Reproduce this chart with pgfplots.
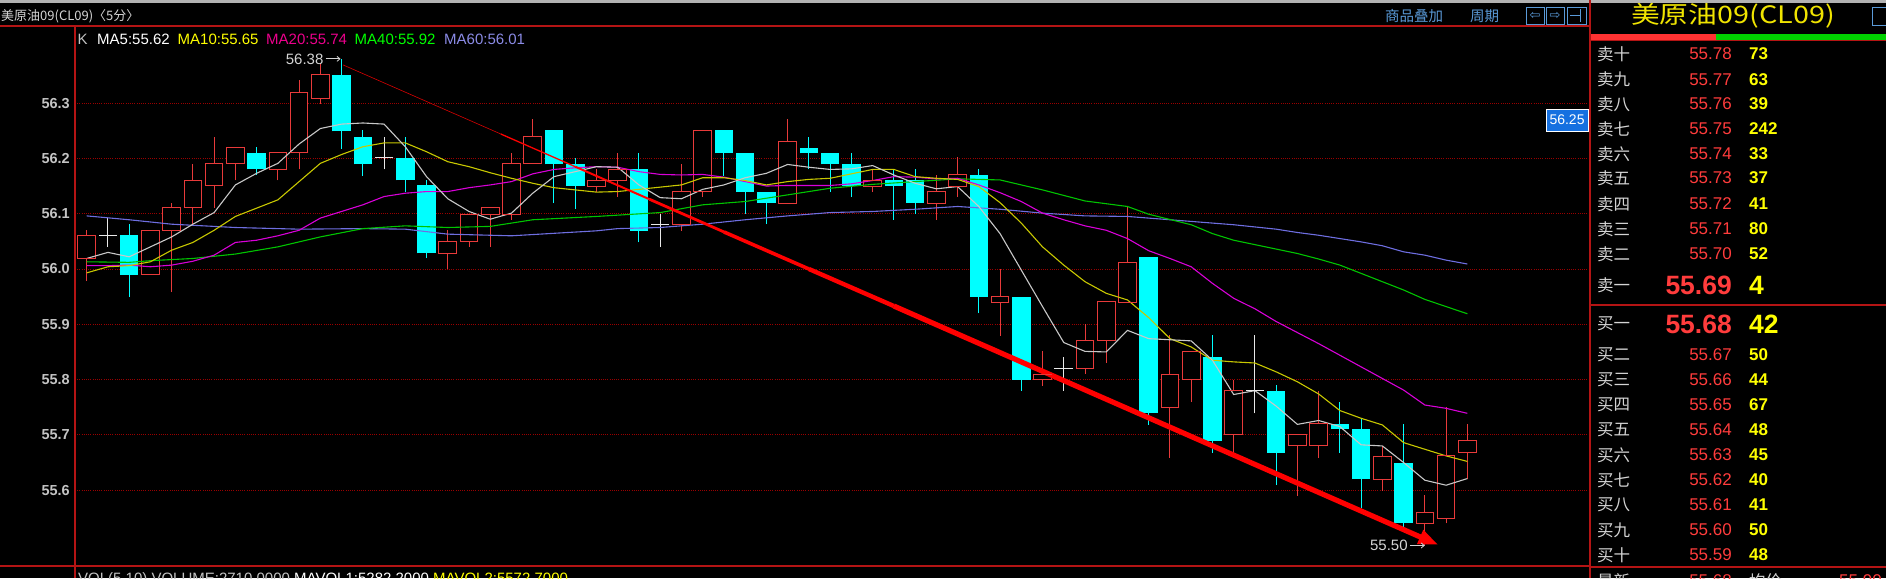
\documentclass[border=0pt]{standalone}
\usepackage{fontspec}
\setmainfont{Liberation Sans}
\newfontfamily\cjk{Noto Sans CJK SC}
\newfontfamily\dejavu{DejaVu Sans}
\usepackage{pgfplots}
\pgfplotsset{compat=1.18}
\usetikzlibrary{arrows.meta}

\definecolor{candred}{HTML}{E83A3A}
\definecolor{candcyan}{HTML}{00FFFF}
\definecolor{crossw}{HTML}{E8E8E8}
\definecolor{maw}{HTML}{C8C8C8}
\definecolor{may}{HTML}{C8C800}
\definecolor{mam}{HTML}{D800D8}
\definecolor{mag}{HTML}{00C400}
\definecolor{mab}{HTML}{6E6EE0}
\definecolor{gridred}{HTML}{9A0000}
\definecolor{framered}{HTML}{B41414}
\definecolor{tickgrey}{HTML}{C4C4C4}
\definecolor{lblgrey}{HTML}{D4D4D4}
\definecolor{obred}{HTML}{FF3C3C}
\definecolor{obyel}{HTML}{FFFF00}
\definecolor{titleyel}{HTML}{F0E400}
\definecolor{uiblue}{HTML}{5A9AD8}
\definecolor{boxblue}{HTML}{1570E0}
\definecolor{barred}{HTML}{FF3232}
\definecolor{bargreen}{HTML}{00D200}

\newcommand\fs[1]{\fontsize{#1}{#1}\selectfont}
\newcommand\ticklab{\bfseries\fontsize{14.5}{16}\selectfont}

% rising candle (hollow red): i, O, H, L, C
\newcommand\cu[5]{%
 \addplot[candred, line width=1pt] coordinates {(#1,#4)(#1,#3)};
 \addplot[candred, line width=18.6pt] coordinates {(#1,#2)(#1,#5)};
 \addplot[black, line width=16.6pt] coordinates {(#1,#2)(#1,#5)};
 \addplot[candred, only marks, mark=-, mark size=9.3pt, mark options={line width=1pt}] coordinates {(#1,#2)(#1,#5)};}
% falling candle (filled cyan): i, O, H, L, C
\newcommand\cd[5]{%
 \addplot[candcyan, line width=1pt] coordinates {(#1,#4)(#1,#3)};
 \addplot[candcyan, line width=18.6pt] coordinates {(#1,#5)(#1,#2)};}
% doji (white cross): i, O, H, L
\newcommand\cx[4]{%
 \addplot[crossw, line width=1pt] coordinates {(#1,#4)(#1,#3)};
 \addplot[crossw, only marks, mark=-, mark size=9.3pt, mark options={line width=1pt}] coordinates {(#1,#2)};}

\newcommand\obrow[4]{%
  \node[anchor=west, inner sep=0pt, text=lblgrey, font=\cjk\fs{16.5}] at (1597,#1) {#2};
  \node[anchor=east, inner sep=0pt, text=obred, font=\fs{17}] at (1732,#1) {#3};
  \node[anchor=west, inner sep=0pt, text=obyel, font=\bfseries\fs{17}] at (1749,#1) {#4};}

\begin{document}
\begin{tikzpicture}
\useasboundingbox (0,0) rectangle (1886pt,578pt);
\fill[black] (0,0) rectangle (1886pt,578pt);
\begin{axis}[
  at={(75pt,12pt)}, anchor=south west,
  scale only axis, width=1514pt, height=540pt,
  xmin=-0.551, xmax=70.73, ymin=55.4629, ymax=56.4394,
  axis line style={draw=none},
  xtick=\empty,
  ytick={55.6,55.7,55.8,55.9,56.0,56.1,56.2,56.3},
  ymajorgrids,
  grid style={draw=gridred, line width=0.9pt, dash pattern=on 1pt off 1.2pt},
  major tick length=0pt,
  yticklabel style={font=\ticklab, text=tickgrey, anchor=east, inner sep=0pt, xshift=-5pt},
  /pgf/number format/fixed, /pgf/number format/fixed zerofill,
  /pgf/number format/precision=1, /pgf/number format/assume math mode=true,
]
% ---- candles (i, open, high, low, close)
\cu{0}{56.019}{56.070}{55.979}{56.061}
\cx{1}{56.061}{56.092}{56.040}
\cd{2}{56.061}{56.081}{55.949}{55.990}
\cu{3}{55.990}{56.070}{55.990}{56.070}
\cu{4}{56.070}{56.120}{55.958}{56.111}
\cu{5}{56.111}{56.190}{56.081}{56.160}
\cu{6}{56.151}{56.239}{56.111}{56.190}
\cu{7}{56.190}{56.219}{56.160}{56.219}
\cd{8}{56.210}{56.220}{56.170}{56.180}
\cu{9}{56.180}{56.210}{56.160}{56.210}
\cu{10}{56.210}{56.342}{56.180}{56.320}
\cu{11}{56.308}{56.372}{56.299}{56.351}
\cd{12}{56.351}{56.380}{56.217}{56.249}
\cd{13}{56.239}{56.251}{56.168}{56.189}
\cx{14}{56.201}{56.239}{56.180}
\cd{15}{56.201}{56.239}{56.139}{56.160}
\cd{16}{56.151}{56.160}{56.019}{56.028}
\cu{17}{56.028}{56.070}{56.000}{56.049}
\cu{18}{56.049}{56.099}{56.040}{56.099}
\cu{19}{56.099}{56.111}{56.040}{56.111}
\cu{20}{56.099}{56.210}{56.089}{56.190}
\cu{21}{56.190}{56.271}{56.190}{56.239}
\cd{22}{56.251}{56.251}{56.119}{56.189}
\cd{23}{56.190}{56.201}{56.109}{56.150}
\cu{24}{56.150}{56.180}{56.139}{56.160}
\cu{25}{56.160}{56.210}{56.130}{56.180}
\cd{26}{56.180}{56.210}{56.048}{56.069}
\cx{27}{56.081}{56.099}{56.040}
\cu{28}{56.081}{56.190}{56.069}{56.140}
\cu{29}{56.140}{56.251}{56.130}{56.251}
\cd{30}{56.251}{56.251}{56.168}{56.209}
\cd{31}{56.210}{56.210}{56.099}{56.139}
\cd{32}{56.140}{56.140}{56.081}{56.119}
\cu{33}{56.119}{56.271}{56.119}{56.230}
\cd{34}{56.219}{56.239}{56.180}{56.209}
\cd{35}{56.210}{56.210}{56.139}{56.189}
\cd{36}{56.190}{56.210}{56.130}{56.150}
\cu{37}{56.150}{56.180}{56.139}{56.160}
\cd{38}{56.160}{56.180}{56.089}{56.150}
\cd{39}{56.160}{56.180}{56.099}{56.119}
\cu{40}{56.119}{56.170}{56.089}{56.140}
\cu{41}{56.150}{56.202}{56.130}{56.170}
\cd{42}{56.170}{56.181}{55.920}{55.950}
\cu{43}{55.940}{56.000}{55.879}{55.950}
\cd{44}{55.950}{55.950}{55.780}{55.800}
\cu{45}{55.800}{55.851}{55.789}{55.810}
\cx{46}{55.820}{55.840}{55.780}
\cu{47}{55.820}{55.901}{55.810}{55.871}
\cu{48}{55.871}{55.941}{55.830}{55.941}
\cu{49}{55.940}{56.113}{55.940}{56.011}
\cd{50}{56.022}{56.022}{55.718}{55.739}
\cu{51}{55.750}{55.880}{55.659}{55.810}
\cu{52}{55.800}{55.850}{55.760}{55.850}
\cd{53}{55.840}{55.880}{55.668}{55.689}
\cu{54}{55.700}{55.800}{55.668}{55.780}
\cx{55}{55.780}{55.880}{55.739}
\cd{56}{55.780}{55.790}{55.609}{55.668}
\cu{57}{55.680}{55.700}{55.590}{55.700}
\cu{58}{55.680}{55.780}{55.659}{55.720}
\cd{59}{55.720}{55.760}{55.668}{55.710}
\cd{60}{55.710}{55.729}{55.567}{55.620}
\cu{61}{55.620}{55.679}{55.599}{55.661}
\cd{62}{55.650}{55.720}{55.531}{55.540}
\cu{63}{55.540}{55.591}{55.500}{55.559}
\cu{64}{55.549}{55.751}{55.540}{55.662}
\cu{65}{55.668}{55.720}{55.620}{55.689}
% ---- moving averages
\addplot[mab, line width=1.1pt] coordinates {(0,56.096)(2,56.089)(4,56.081)(7,56.075)(10,56.072)(13,56.073)(15,56.072)(17,56.063)(19,56.061)(20,56.060)(24,56.069)(25,56.073)(27,56.075)(29,56.081)(31,56.089)(33,56.096)(35,56.102)(37,56.104)(39,56.108)(41,56.113)(43,56.108)(45,56.101)(47,56.096)(49,56.095)(50,56.092)(51,56.089)(52,56.086)(53,56.083)(54,56.080)(55,56.076)(56,56.072)(57,56.066)(58,56.061)(59,56.055)(60,56.049)(61,56.042)(62,56.031)(63,56.025)(64,56.016)(65,56.009)};
\addplot[mag, line width=1.1pt] coordinates {(0,56.013)(2,56.012)(3,56.015)(5,56.019)(7,56.027)(9,56.040)(11,56.058)(13,56.073)(15,56.078)(17,56.075)(19,56.077)(21,56.089)(24,56.095)(27,56.102)(29,56.116)(31,56.122)(33,56.134)(35,56.146)(37,56.153)(39,56.158)(41,56.163)(43,56.161)(45,56.143)(47,56.123)(49,56.113)(50,56.099)(52,56.080)(53,56.064)(54,56.052)(55,56.044)(56,56.036)(57,56.028)(58,56.018)(59,56.007)(60,55.992)(61,55.977)(62,55.962)(63,55.945)(64,55.932)(65,55.919)};
\addplot[mam, line width=1.1pt] coordinates {(0,56.006)(1,56.006)(2,56.007)(3,56.004)(4,56.007)(5,56.014)(6,56.025)(7,56.048)(8,56.052)(9,56.060)(10,56.070)(11,56.092)(12,56.104)(13,56.116)(14,56.131)(15,56.137)(16,56.140)(17,56.140)(18,56.147)(19,56.152)(20,56.158)(21,56.172)(22,56.180)(23,56.183)(24,56.185)(25,56.184)(26,56.176)(27,56.171)(28,56.170)(29,56.171)(30,56.166)(31,56.158)(32,56.150)(33,56.151)(34,56.151)(35,56.151)(36,56.154)(37,56.160)(38,56.167)(39,56.166)(40,56.163)(41,56.164)(42,56.152)(43,56.138)(44,56.122)(45,56.101)(46,56.089)(47,56.078)(48,56.070)(49,56.055)(50,56.033)(51,56.019)(52,56.004)(53,55.974)(54,55.947)(55,55.928)(56,55.905)(57,55.885)(58,55.865)(59,55.844)(60,55.823)(61,55.802)(62,55.781)(63,55.754)(64,55.748)(65,55.739)};
\addplot[may, line width=1.1pt] coordinates {(0,55.993)(1,56.004)(2,56.006)(3,56.013)(4,56.034)(5,56.048)(6,56.070)(7,56.095)(8,56.110)(9,56.125)(10,56.158)(11,56.191)(12,56.207)(13,56.221)(14,56.228)(15,56.228)(16,56.212)(17,56.194)(18,56.185)(19,56.174)(20,56.164)(21,56.155)(22,56.147)(23,56.143)(24,56.139)(25,56.140)(26,56.144)(27,56.148)(28,56.152)(29,56.165)(30,56.165)(31,56.160)(32,56.152)(33,56.158)(34,56.162)(35,56.164)(36,56.172)(37,56.180)(38,56.180)(39,56.167)(40,56.164)(41,56.162)(42,56.149)(43,56.120)(44,56.083)(45,56.040)(46,56.007)(47,55.977)(48,55.956)(49,55.944)(50,55.912)(51,55.874)(52,55.859)(53,55.835)(54,55.832)(55,55.830)(56,55.814)(57,55.796)(58,55.774)(59,55.744)(60,55.730)(61,55.718)(62,55.686)(63,55.674)(64,55.662)(65,55.652)};
\addplot[maw, line width=1.1pt] coordinates {(0,56.019)(1,56.030)(2,56.022)(3,56.040)(4,56.058)(5,56.081)(6,56.102)(7,56.152)(8,56.173)(9,56.191)(10,56.226)(11,56.254)(12,56.262)(13,56.264)(14,56.262)(15,56.221)(16,56.167)(17,56.127)(18,56.104)(19,56.090)(20,56.101)(21,56.137)(22,56.167)(23,56.176)(24,56.185)(25,56.184)(26,56.152)(27,56.129)(28,56.127)(29,56.144)(30,56.152)(31,56.165)(32,56.173)(33,56.189)(34,56.184)(35,56.180)(36,56.181)(37,56.187)(38,56.170)(39,56.155)(40,56.145)(41,56.149)(42,56.113)(43,56.064)(44,55.998)(45,55.932)(46,55.867)(47,55.851)(48,55.850)(49,55.889)(50,55.874)(51,55.872)(52,55.870)(53,55.835)(54,55.773)(55,55.780)(56,55.752)(57,55.719)(58,55.726)(59,55.715)(60,55.682)(61,55.680)(62,55.650)(63,55.618)(64,55.609)(65,55.621)};
% ---- hand-drawn trend line (tapering)
\addplot[red!85!black, line width=0.6pt] coordinates {(12.07,56.369)(19.5,56.244)};
\addplot[red, line width=1.3pt] coordinates {(19.5,56.244)(23,56.185)};
\addplot[red, line width=2pt] coordinates {(23,56.185)(26.5,56.126)};
\addplot[red, line width=2.8pt] coordinates {(26.5,56.126)(30,56.067)};
\addplot[red, line width=3.6pt] coordinates {(30,56.067)(34,56.000)};
\addplot[red, line width=4.4pt] coordinates {(34,56.000)(38,55.933)};
\addplot[red, line width=5.2pt, -{Triangle[length=20pt,width=14pt]}] coordinates {(38,55.933)(63.64,55.501)};
% ---- high / low markers
\draw[lblgrey, line width=0.8pt, -{Straight Barb[length=3pt,width=5pt]}] ([xshift=-16pt]axis cs:12,56.38) -- ([xshift=-1pt]axis cs:12,56.38);
\node[anchor=east, inner sep=0pt, text=lblgrey, font=\fs{15}] at ([xshift=-18pt]axis cs:12,56.38) {56.38};
\draw[lblgrey, line width=0.8pt, -{Straight Barb[length=3pt,width=5pt]}] ([xshift=-15pt]axis cs:63,55.50) -- ([xshift=-0pt]axis cs:63,55.50);
\node[anchor=east, inner sep=0pt, text=lblgrey, font=\fs{15}] at ([xshift=-17pt]axis cs:63,55.50) {55.50};
\end{axis}

\begin{scope}[x=1pt,y=1pt]
% window chrome
\fill[gray!60] (0,575) rectangle (1886,578);
% frame lines
\draw[framered, line width=1.2pt] (0,552) -- (1590,552);
\draw[framered, line width=1.2pt] (0,12) -- (1590,12);
\draw[framered, line width=1.2pt] (75,552) -- (75,0);
\draw[framered, line width=1.2pt] (1590,578) -- (1590,0);
% title line
\node[anchor=west, inner sep=0pt, text=lblgrey, font=\cjk\fs{13}] at (1,562) {美原油09(CL09)〈5分〉};
% MA header
\node[anchor=base west, inner sep=0pt, text=tickgrey, font=\fs{15}] at (77.5,533) {K};
\node[anchor=base west, inner sep=0pt, text=white, font=\fs{15}] at (97,533) {MA5:55.62};
\node[anchor=base west, inner sep=0pt, text=obyel, font=\fs{15}] at (177.5,533) {MA10:55.65};
\node[anchor=base west, inner sep=0pt, text=magenta, font=\fs{15}] at (266,533) {MA20:55.74};
\node[anchor=base west, inner sep=0pt, text=green, font=\fs{15}] at (354.5,533) {MA40:55.92};
\node[anchor=base west, inner sep=0pt, text=mab!80!white, font=\fs{15}] at (444,533) {MA60:56.01};
% top-right controls
\node[anchor=west, inner sep=0pt, text=uiblue, font=\cjk\fs{14.5}] at (1385,562) {商品叠加};
\node[anchor=west, inner sep=0pt, text=uiblue, font=\cjk\fs{14.5}] at (1470,562) {周期};
\draw[uiblue, line width=0.8pt] (1526,554) rectangle (1544,571);
\draw[uiblue, line width=0.8pt] (1546,554) rectangle (1564,571);
\draw[uiblue, line width=0.8pt] (1567,554) rectangle (1586,571);
\node[inner sep=0pt, text=uiblue, font=\dejavu\fs{13}] at (1535,562.5) {⇦};
\node[inner sep=0pt, text=uiblue, font=\dejavu\fs{13}] at (1555,562.5) {⇨};
\draw[uiblue, line width=0.8pt] (1580,556) -- (1580,569) (1570,562.5) -- (1580,562.5);
% price cursor box
\fill[boxblue] (1546,447) rectangle (1588,469);
\draw[white, line width=0.6pt] (1546,447) rectangle (1588,469);
\node[inner sep=0pt, text=white, font=\fs{14}] at (1567,458) {56.25};
% volume line (cut at bottom, as in the reference)
\node[anchor=base west, inner sep=0pt, font=\fs{15}] at (78,-5) {\textcolor{tickgrey}{VOL(5,10) VOLUME:2710.0000} \textcolor{white}{MAVOL1:5282.2000} \textcolor{obyel}{MAVOL2:5572.7000}};
% ---- right panel
\node[inner sep=0pt, text=titleyel, font=\cjk\fs{24}, xscale=1.2] at (1733,562) {美原油09(CL09)};
\draw[uiblue, line width=0.8pt] (1872,553) rectangle (1895,571);
\fill[barred] (1591,538) rectangle (1716,544);
\fill[bargreen] (1716,538) rectangle (1886,544);
\draw[framered, line width=0.8pt] (1591,537.5) -- (1886,537.5);
\draw[framered, line width=1.2pt] (1590,273) -- (1886,273);
\draw[framered, line width=1.2pt] (1590,11) -- (1886,11);
\obrow{524}{卖十}{55.78}{73}
\obrow{498.7}{卖九}{55.77}{63}
\obrow{474}{卖八}{55.76}{39}
\obrow{449}{卖七}{55.75}{242}
\obrow{424}{卖六}{55.74}{33}
\obrow{400}{卖五}{55.73}{37}
\obrow{374}{卖四}{55.72}{41}
\obrow{349}{卖三}{55.71}{80}
\obrow{324}{卖二}{55.70}{52}
\node[anchor=west, inner sep=0pt, text=lblgrey, font=\cjk\fs{16.5}] at (1597,293) {卖一};
\node[anchor=east, inner sep=0pt, text=obred, font=\bfseries\fs{26.5}] at (1732,293) {55.69};
\node[anchor=west, inner sep=0pt, text=obyel, font=\bfseries\fs{26.5}] at (1749,293) {4};
\node[anchor=west, inner sep=0pt, text=lblgrey, font=\cjk\fs{16.5}] at (1597,254) {买一};
\node[anchor=east, inner sep=0pt, text=obred, font=\bfseries\fs{26.5}] at (1732,254) {55.68};
\node[anchor=west, inner sep=0pt, text=obyel, font=\bfseries\fs{26.5}] at (1749,254) {42};
\obrow{223}{买二}{55.67}{50}
\obrow{198}{买三}{55.66}{44}
\obrow{173}{买四}{55.65}{67}
\obrow{148}{买五}{55.64}{48}
\obrow{123}{买六}{55.63}{45}
\obrow{98}{买七}{55.62}{40}
\obrow{73}{买八}{55.61}{41}
\obrow{48}{买九}{55.60}{50}
\obrow{23}{买十}{55.59}{48}
% bottom row (cut, as in the reference)
\node[anchor=west, inner sep=0pt, text=lblgrey, font=\cjk\fs{16.5}] at (1597,-3) {最新};
\node[anchor=east, inner sep=0pt, text=obred, font=\fs{17}] at (1732,-3) {55.68};
\node[anchor=west, inner sep=0pt, text=lblgrey, font=\cjk\fs{16.5}] at (1749,-3) {均价};
\node[anchor=west, inner sep=0pt, text=obred, font=\fs{17}] at (1839,-3) {55.90};
\end{scope}
\end{tikzpicture}
\end{document}
